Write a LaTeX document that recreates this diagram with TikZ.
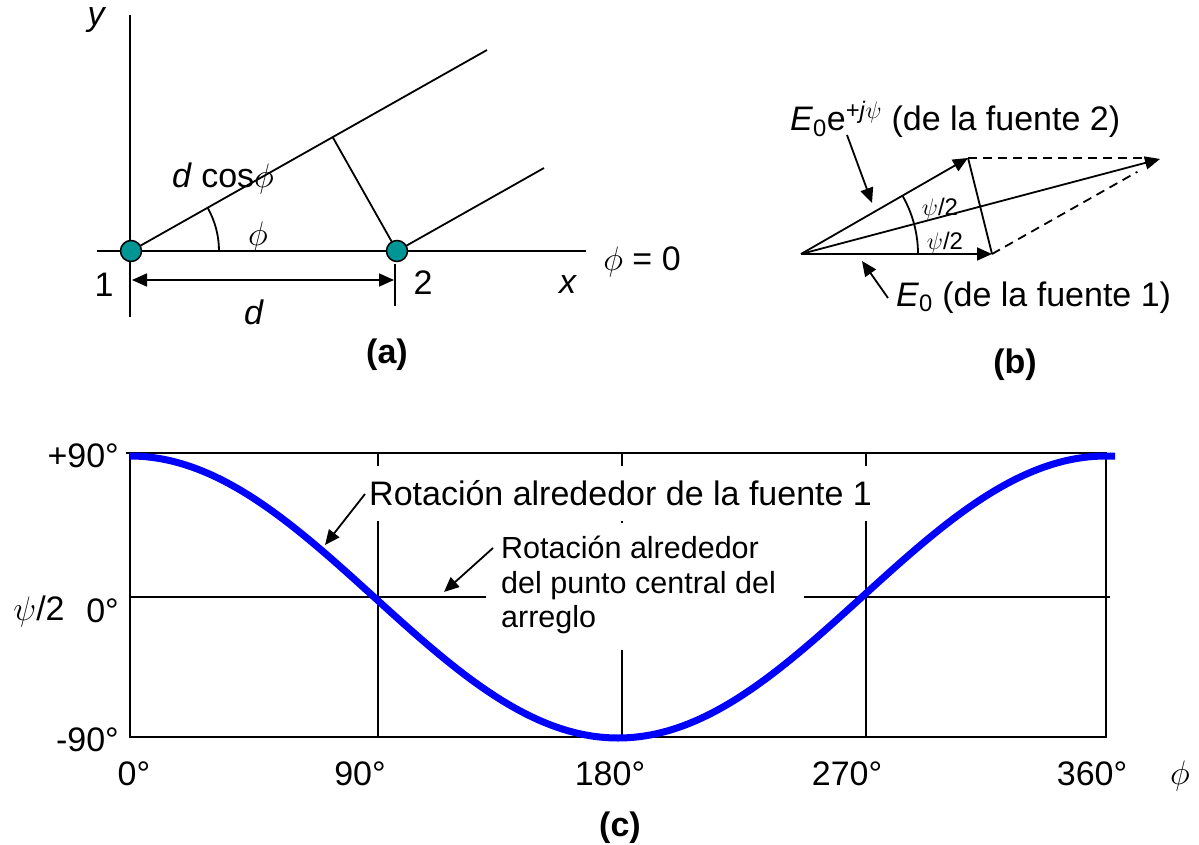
\RequirePackage{fix-cm}
\documentclass[tikz,border=0pt]{standalone}
\usepackage{fontspec}
\setmainfont{Liberation Sans}
\usetikzlibrary{arrows.meta,calc}
\definecolor{tealdot}{RGB}{0,150,150}
\definecolor{curveblue}{RGB}{0,0,255}
\begin{document}
\begin{tikzpicture}[x=1pt,y=-1pt,
  ln/.style={line width=1.8pt},
  arr/.style={line width=1.8pt,-{Triangle[length=15pt,width=13pt]}},
  dimarr/.style={line width=1.8pt,{Triangle[length=15pt,width=13pt]}-{Triangle[length=15pt,width=13pt]}},
  lbl/.style={inner sep=0pt,font=\fontsize{34}{40}\selectfont},
  blbl/.style={inner sep=0pt,font=\fontsize{34}{40}\selectfont\bfseries},
  smlbl/.style={inner sep=0pt,font=\fontsize{30.5}{35}\selectfont},
  tiny/.style={inner sep=0pt,font=\fontsize{24}{28}\selectfont},
  dot/.style={circle,draw,line width=1.5pt,fill=tealdot,minimum size=21pt,inner sep=0pt},
  dsh/.style={line width=1.8pt,dash pattern=on 9pt off 6pt}]
\useasboundingbox (0,0) rectangle (1199,845);

% ---------------- (a) ----------------
\coordinate (O1) at (131,251);
\coordinate (O2) at (397,251);
\coordinate (L1) at (487,50);
\coordinate (L2) at (544,168);
\coordinate (ytop) at (130,15);
\coordinate (ybot) at (130,317);
\coordinate (xl) at (97,251);
\coordinate (xr) at (586,251);
\draw[ln] (ytop) -- (ybot);
\draw[ln] (xl) -- (xr);
\draw[ln] (O1) -- (L1);
\draw[ln] (O2) -- (L2);
\coordinate (F) at ($(O1)!(O2)!(L1)$);
\draw[ln] (O2) -- (F);
\draw[ln] ($(O1)+(88,0)$) arc[start angle=0,end angle=-29.45,radius=88];
\coordinate (dL) at (132,280);
\coordinate (dR) at (394,280);
\draw[dimarr] (dL) -- (dR);
\coordinate (tk1) at (395,264);
\coordinate (tk2) at (395,306);
\draw[ln] (tk1) -- (tk2);
\node[dot] (c1) at (O1) {};
\node[dot] (c2) at (O2) {};
\node[lbl] (ylab) at (97,20) {\textit{y}};
\node[lbl] (dcos) at (223,178) {\textit{d} cos$\phi$};
\node[lbl] (phiA) at (258,237) {$\phi$};
\node[lbl] (phi0) at (642,262) {$\phi$ = 0};
\node[lbl] (one) at (104,285) {1};
\node[lbl] (two) at (423,283) {2};
\node[lbl] (xlab) at (568,285) {\textit{x}};
\node[lbl] (dlab) at (254,312) {\textit{d}};
\node[blbl] (capA) at (387,355) {(a)};

% ---------------- (b) ----------------
\coordinate (B0) at (801,254);
\coordinate (B1) at (992,254);
\coordinate (B2) at (968,158);
\coordinate (B3) at (1160,159);
\coordinate (Bd) at (1143,158);
\draw[arr] (B0) -- (B1);
\draw[arr] (B0) -- (B2);
\draw[arr] (B0) -- (B3);
\draw[ln] (B2) -- (B1);
\draw[dsh] (B2) -- (Bd);
\draw[dsh,shorten >=26pt] (B1) -- (B3);
\draw[ln] ($(B0)+(-14.8:117)$) arc[start angle=-14.8,end angle=-29.9,radius=117];
\draw[ln] ($(B0)+(117,0)$) arc[start angle=0,end angle=-14.8,radius=117];
\node[tiny] (psiU) at (940,209) {$\psi$/2};
\node[tiny] (psiL) at (945,243) {$\psi$/2};
\node[lbl,anchor=base west] (E2) at (790,131) {\textit{E}\textsubscript{0}e\textsuperscript{+\textit{j}$\psi$} (de la fuente 2)};
\node[lbl,anchor=base west] (E1) at (896,306) {\textit{E}\textsubscript{0} (de la fuente 1)};
\coordinate (a2s) at (847,135);
\coordinate (a2e) at (872,203);
\draw[arr] (a2s) -- (a2e);
\coordinate (a1s) at (888,298);
\coordinate (a1e) at (862,261);
\draw[arr] (a1s) -- (a1e);
\node[blbl] (capB) at (1015,365) {(b)};

% ---------------- (c) ----------------
\coordinate (P00) at (130,453);
\coordinate (P11) at (1106,737);
\coordinate (Ttl) at (126,453);
\draw[ln] (P00) rectangle (P11);
\draw[ln] (Ttl) -- (P00);
\coordinate (M0) at (130,597);
\coordinate (M1) at (1110,597);
\draw[ln] (M0) -- (M1);
\foreach \xx in {378,622,866} {\draw[ln] (\xx,453) -- (\xx,737);}
\fill[white] (355,466) rectangle (885,521);
\fill[white] (486,523) rectangle (804,650);
\node[lbl,anchor=base west] (rot1) at (369,505) {Rotación alrededor de la fuente 1};
\node[smlbl,anchor=base west] (rot2a) at (501,558) {Rotación alrededor};
\node[smlbl,anchor=base west] (rot2b) at (501,593) {del punto central del};
\node[smlbl,anchor=base west] (rot2c) at (501,627) {arreglo};
\draw[curveblue,line width=7pt] plot[domain=0:360,samples=121,smooth] ({130+(\x/360)*976},{597-141*cos(\x)}) -- (1115,456);
\coordinate (r1s) at (365,494);
\coordinate (r1e) at (325,545);
\draw[arr] (r1s) -- (r1e);
\coordinate (r2s) at (493,548);
\coordinate (r2e) at (444,592);
\draw[arr] (r2s) -- (r2e);
\node[lbl,anchor=east] (p90) at (119,456) {+90°};
\node[lbl,anchor=east] (z0) at (119,611) {0°};
\node[lbl] (psiax) at (39,611) {$\psi$/2};
\node[lbl,anchor=east] (m90) at (119,740) {-90°};
\node[lbl] (t0) at (134,774) {0°};
\node[lbl] (t90) at (360,774) {90°};
\node[lbl] (t180) at (610,774) {180°};
\node[lbl] (t270) at (847,774) {270°};
\node[lbl] (t360) at (1092,774) {360°};
\node[lbl] (phiax) at (1180,776) {$\phi$};
\node[blbl] (capC) at (620,828) {(c)};
\end{tikzpicture}
\end{document}
